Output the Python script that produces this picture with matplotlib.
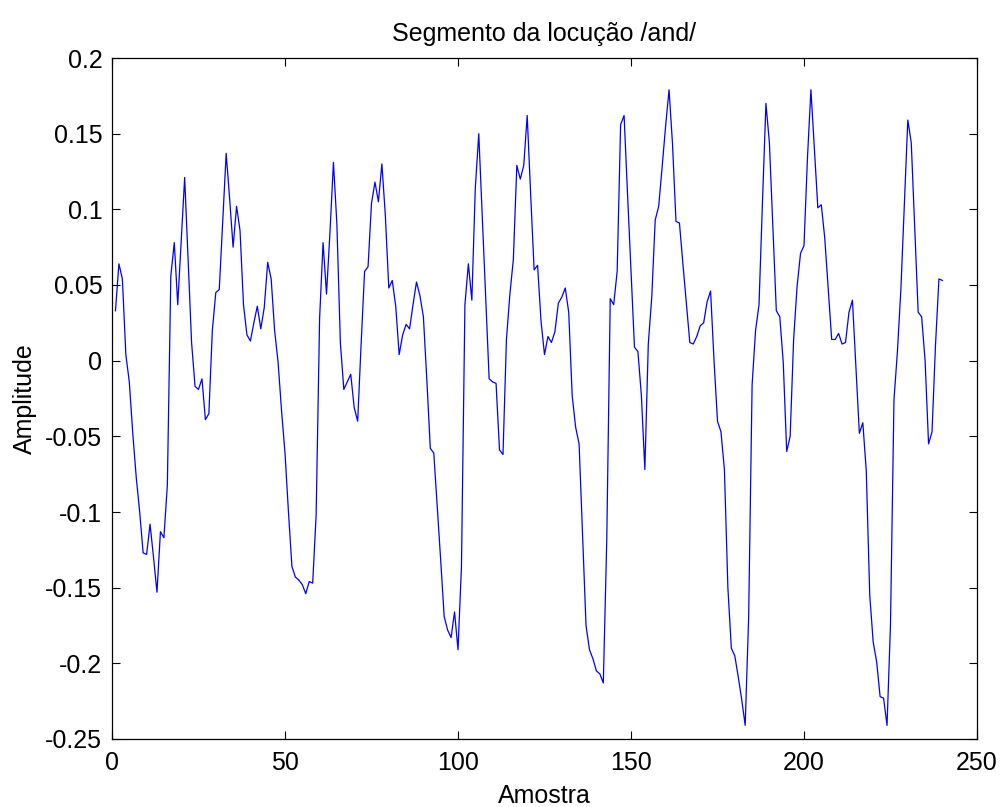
import matplotlib
matplotlib.use("Agg")
import matplotlib.pyplot as plt
import numpy as np

plt.rcParams['font.family'] = ['Liberation Sans', 'DejaVu Sans']

title = "Segmento da locução /and/"
xlabel = "Amostra"
ylabel = "Amplitude"

amplitude = [
    0.033, 0.064, 0.054, 0.004, -0.014, -0.048, -0.077, -0.100, -0.127, -0.128,
    -0.108, -0.130, -0.153, -0.113, -0.117, -0.082, 0.056, 0.078, 0.037, 0.079,
    0.121, 0.067, 0.012, -0.017, -0.019, -0.012, -0.039, -0.035, 0.020, 0.045,
    0.047, 0.092, 0.137, 0.107, 0.075, 0.102, 0.086, 0.037, 0.017, 0.013,
    0.025, 0.036, 0.021, 0.035, 0.065, 0.054, 0.020, -0.001, -0.033, -0.061,
    -0.100, -0.136, -0.143, -0.145, -0.148, -0.154, -0.146, -0.147, -0.102, 0.028,
    0.078, 0.044, 0.085, 0.131, 0.090, 0.012, -0.019, -0.014, -0.009, -0.031,
    -0.040, 0.011, 0.059, 0.062, 0.104, 0.118, 0.105, 0.130, 0.096, 0.048,
    0.053, 0.036, 0.004, 0.017, 0.024, 0.021, 0.037, 0.052, 0.043, 0.029,
    -0.013, -0.058, -0.061, -0.096, -0.132, -0.169, -0.178, -0.183, -0.166, -0.191,
    -0.136, 0.037, 0.064, 0.040, 0.114, 0.150, 0.096, 0.042, -0.012, -0.014,
    -0.015, -0.059, -0.062, 0.014, 0.044, 0.067, 0.129, 0.120, 0.129, 0.162,
    0.110, 0.060, 0.063, 0.026, 0.004, 0.016, 0.012, 0.019, 0.038, 0.042,
    0.048, 0.032, -0.023, -0.044, -0.055, -0.115, -0.175, -0.191, -0.197, -0.205,
    -0.207, -0.213, -0.118, 0.041, 0.037, 0.059, 0.156, 0.162, 0.110, 0.060,
    0.009, 0.006, -0.023, -0.072, 0.011, 0.042, 0.093, 0.102, 0.128, 0.155,
    0.179, 0.143, 0.092, 0.091, 0.064, 0.038, 0.012, 0.011, 0.016, 0.023,
    0.025, 0.039, 0.046, 0.000, -0.040, -0.047, -0.072, -0.150, -0.190, -0.195,
    -0.209, -0.224, -0.241, -0.170, -0.016, 0.020, 0.037, 0.105, 0.170, 0.144,
    0.088, 0.033, 0.029, -0.001, -0.060, -0.050, 0.014, 0.049, 0.071, 0.076,
    0.134, 0.179, 0.140, 0.101, 0.103, 0.081, 0.048, 0.014, 0.014, 0.018,
    0.011, 0.012, 0.032, 0.040, -0.004, -0.048, -0.041, -0.073, -0.155, -0.186,
    -0.199, -0.222, -0.223, -0.241, -0.174, -0.026, 0.006, 0.047, 0.103, 0.159,
    0.144, 0.088, 0.032, 0.029, 0.000, -0.055, -0.047, 0.010, 0.054, 0.053,
]
samples = np.arange(1, len(amplitude) + 1)

x_ticks = [0, 50, 100, 150, 200, 250]
y_ticks = [-0.25, -0.2, -0.15, -0.1, -0.05, 0, 0.05, 0.1, 0.15, 0.2]
y_tick_labels = ["-0.25", "-0.2", "-0.15", "-0.1", "-0.05", "0", "0.05", "0.1", "0.15", "0.2"]

fig = plt.figure(figsize=(10.03, 8.07), dpi=100)
ax = fig.add_axes([112/1003, 68/807, 865/1003, 681/807])
ax.plot(samples, amplitude, color=(0, 0, 1), lw=0.9)

ax.set_xlim(0, 250)
ax.set_ylim(-0.25, 0.2)
ax.set_xticks(x_ticks)
ax.set_xticklabels([str(v) for v in x_ticks])
ax.set_yticks(y_ticks)
ax.set_yticklabels(y_tick_labels)
ax.tick_params(direction='in', length=6, width=0.8, top=True, right=True,
               labelsize=18, colors='black')
ax.tick_params(axis='x', pad=9)
ax.tick_params(axis='y', pad=7)
for s in ax.spines.values():
    s.set_linewidth(0.9)

ax.set_title(title, fontsize=18, pad=12)
ax.set_xlabel(xlabel, fontsize=18, labelpad=6)
ax.set_ylabel(ylabel, fontsize=18, labelpad=6)

fig.savefig("out.png", dpi=100)
